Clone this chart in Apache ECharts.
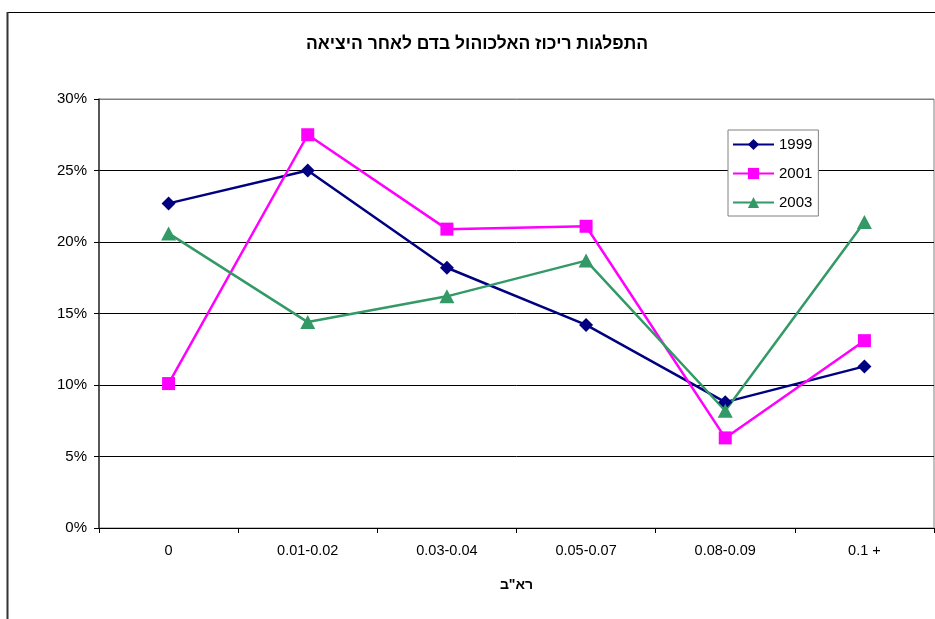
<!DOCTYPE html>
<html>
<head>
<meta charset="utf-8">
<script src="https://cdn.jsdelivr.net/npm/echarts@6/dist/echarts.min.js"></script>
<style>
  html, body { margin: 0; padding: 0; background: #fff; }
  #chart { width: 935px; height: 619px; }
</style>
</head>
<body>
<div id="chart"></div>
<script>
// BAC range categories (x axis)
const categories = ['0', '0.01-0.02', '0.03-0.04', '0.05-0.07', '0.08-0.09', '0.1 +'];

// Share of drivers per BAC range, percent
const values1999 = [22.7, 25.0, 18.2, 14.2, 8.8, 11.3];
const values2001 = [10.1, 27.5, 20.9, 21.1, 6.3, 13.1];
const values2003 = [20.6, 14.4, 16.2, 18.7, 8.2, 21.4];

const titleText = 'התפלגות ריכוז האלכוהול בדם לאחר היציאה';
const xAxisName = 'רא"ב';

const font = 'Arial, "Liberation Sans", sans-serif';

const chart = echarts.init(document.getElementById('chart'), null, { renderer: 'canvas' });

function lineSeries(name, data, color, symbol, size) {
  return {
    name: name,
    type: 'line',
    data: data,
    symbol: symbol,
    symbolSize: size,
    showAllSymbol: true,
    animation: false,
    lineStyle: { color: color, width: 2.5 },
    itemStyle: { color: color },
    emphasis: { disabled: true }
  };
}

chart.setOption({
  animation: false,
  backgroundColor: '#fff',
  title: {
    text: titleText,
    left: 472,
    textAlign: 'center',
    top: 30,
    textStyle: { fontFamily: font, fontSize: 17.5, fontWeight: 'bold', color: '#000' }
  },
  grid: {
    left: 99,
    right: 1,
    top: 99,
    bottom: 91,
    show: true,
    borderColor: '#808080',
    borderWidth: 1,
    backgroundColor: '#fff'
  },
  legend: {
    orient: 'vertical',
    left: 728,
    top: 130,
    padding: [7, 6, 6, 4],
    itemGap: 14,
    itemWidth: 41,
    itemHeight: 14,
    backgroundColor: '#fff',
    borderColor: '#808080',
    borderWidth: 1,
    borderRadius: 0,
    textStyle: { fontFamily: font, fontSize: 15, color: '#000' },
    data: ['1999', '2001', '2003']
  },
  xAxis: {
    type: 'category',
    data: categories,
    boundaryGap: true,
    name: xAxisName,
    nameLocation: 'middle',
    nameGap: 50,
    nameTextStyle: { fontFamily: font, fontSize: 14, fontWeight: 'bold', color: '#000' },
    axisLine: { lineStyle: { color: '#000', width: 1 } },
    axisTick: { show: true, inside: false, length: 5, alignWithLabel: false, lineStyle: { color: '#000' } },
    axisLabel: { fontFamily: font, fontSize: 14.5, color: '#000', margin: 15 },
    splitLine: { show: false }
  },
  yAxis: {
    type: 'value',
    min: 0,
    max: 30,
    interval: 5,
    axisLine: { show: true, lineStyle: { color: '#333', width: 1.5 } },
    axisTick: { show: true, inside: false, length: 5, lineStyle: { color: '#000' } },
    axisLabel: {
      fontFamily: font, fontSize: 15, color: '#000', margin: 12,
      formatter: v => v + '%'
    },
    splitLine: {
      show: true,
      lineStyle: { color: ['#000', '#000', '#000', '#000', '#000', '#000', '#808080'], width: 1 }
    }
  },
  series: [
    lineSeries('1999', values1999, '#000080', 'diamond', [14, 14]),
    lineSeries('2001', values2001, '#FF00FF', 'rect', [13, 13]),
    lineSeries('2003', values2003, '#339966', 'triangle', [15, 14])
  ],
  graphic: [
    // outer chart frame (top and left edges)
    {
      type: 'line',
      silent: true,
      shape: { x1: 7, y1: 12.5, x2: 935, y2: 12.5 },
      style: { stroke: '#000', lineWidth: 1 }
    },
    {
      type: 'line',
      silent: true,
      shape: { x1: 7.5, y1: 12, x2: 7.5, y2: 619 },
      style: { stroke: '#333', lineWidth: 2 }
    }
  ]
});
</script>
</body>
</html>
